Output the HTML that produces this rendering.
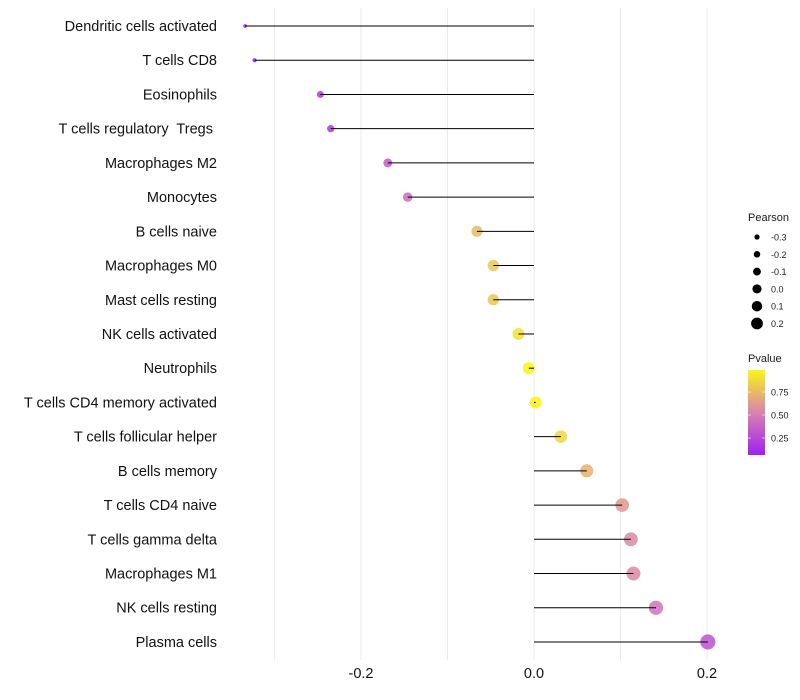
<!DOCTYPE html>
<html><head><meta charset="utf-8"><style>body{margin:0;background:#fff}svg{display:block;font-family:"Liberation Sans",sans-serif}</style></head>
<body>
<svg id="chart" width="800" height="700" xmlns="http://www.w3.org/2000/svg"></svg>
<script>
const categories=["Dendritic cells activated","T cells CD8","Eosinophils","T cells regulatory  Tregs ","Macrophages M2","Monocytes","B cells naive","Macrophages M0","Mast cells resting","NK cells activated","Neutrophils","T cells CD4 memory activated","T cells follicular helper","B cells memory","T cells CD4 naive","T cells gamma delta","Macrophages M1","NK cells resting","Plasma cells"];
const pearson=[-0.334,-0.323,-0.247,-0.235,-0.169,-0.146,-0.066,-0.047,-0.047,-0.018,-0.006,0.002,0.031,0.061,0.102,0.112,0.115,0.141,0.201];
const pvalue=[0.05,0.06,0.17,0.17,0.35,0.42,0.75,0.8,0.8,0.9,0.98,0.99,0.87,0.72,0.62,0.56,0.56,0.45,0.3];
const xTicks=[-0.2,0.0,0.2];
const xTickLabels=["-0.2","0.0","0.2"];
const gridMinor=[-0.3,-0.1,0.1];
const sizeLegend=[-0.3,-0.2,-0.1,0.0,0.1,0.2];
const sizeLegendLabels=["-0.3","-0.2","-0.1","0.0","0.1","0.2"];
const colLegend=[0.25,0.5,0.75];
const colLegendLabels=["0.25","0.50","0.75"];
const svg=document.getElementById('chart');const NS="http://www.w3.org/2000/svg";
function mk(t,a,p){const e=document.createElementNS(NS,t);for(const k in a)e.setAttribute(k,a[k]);(p||svg).appendChild(e);return e;}
const x=v=>534+v*865;
const y=i=>26+i*34.22;
const r=v=>Math.sqrt(3.5+100*Math.max(0,v+0.334));
function col(p){const t=Math.max(0,Math.min(1,(p-0.065)/0.925));const s=[[160,32,240],[217,130,175],[250,245,20]];let a,b,u;if(t<0.5){a=s[0];b=s[1];u=t/0.5}else{a=s[1];b=s[2];u=(t-0.5)/0.5}return `rgb(${a.map((c,i)=>Math.round(c+(b[i]-c)*u)).join(',')})`;}
const grid=mk('g',{});


gridMinor.concat(xTicks).forEach(v=>{mk('line',{x1:x(v),x2:x(v),y1:8,y2:660,stroke:'#ebebeb','stroke-width':1},grid);});
const pts=mk('g',{});


const segs=mk('g',{});


categories.forEach((c,i)=>{
 const ci=mk('circle',{cx:x(pearson[i]),cy:y(i),r:r(pearson[i]),fill:col(pvalue[i]),'fill-opacity':0.85},pts);
 
 
 const l=mk('line',{x1:x(0),x2:x(pearson[i]),y1:y(i),y2:y(i),stroke:'#000','stroke-width':1},segs);
 
 
 const t=mk('text',{x:217,y:y(i)+5,'text-anchor':'end','font-size':14.5,fill:'#111',style:'white-space:pre'});
 t.textContent=c;
 
 
});
xTicks.forEach((v,i)=>{const t=mk('text',{x:x(v),y:678,'text-anchor':'middle','font-size':14.5,fill:'#111'});t.textContent=xTickLabels[i];
 
 });
const lg=mk('g',{});


let t=mk('text',{x:748,y:221,'font-size':11,fill:'#1a1a1a'},lg);t.textContent='Pearson';
sizeLegend.forEach((v,i)=>{const cy=237+i*17.3;mk('circle',{cx:757,cy:cy,r:2.6+3.3*(v+0.3)/0.5,fill:'#000'},lg);const tt=mk('text',{x:771,y:cy+3.5,'font-size':9,fill:'#1a1a1a'},lg);tt.textContent=sizeLegendLabels[i];});
t=mk('text',{x:748,y:362,'font-size':11,fill:'#1a1a1a'},lg);t.textContent='Pvalue';
const defs=mk('defs',{});const gr=mk('linearGradient',{id:'pg',x1:0,y1:1,x2:0,y2:0},defs);
for(let k=0;k<=10;k++){const p=0.065+0.925*k/10;mk('stop',{offset:k/10,'stop-color':col(p)},gr);}
mk('rect',{x:748,y:370,width:17,height:85,fill:'url(#pg)'},lg);
colLegend.forEach((v,i)=>{const yy=455-(v-0.065)/0.925*85;mk('line',{x1:748,x2:751,y1:yy,y2:yy,stroke:'#fff','stroke-opacity':0.6},lg);mk('line',{x1:762,x2:765,y1:yy,y2:yy,stroke:'#fff','stroke-opacity':0.6},lg);const tt=mk('text',{x:771,y:yy+3.5,'font-size':9,fill:'#1a1a1a'},lg);tt.textContent=colLegendLabels[i];});
</script>
</body></html>
